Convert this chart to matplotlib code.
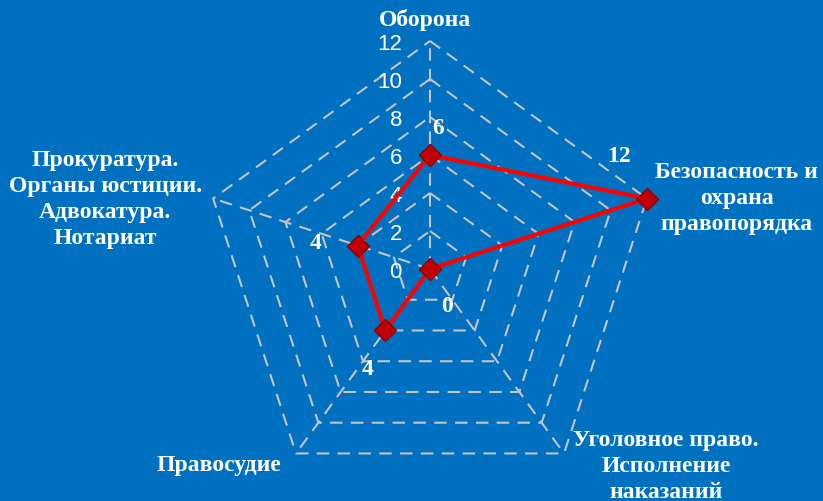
import numpy as np
import matplotlib
matplotlib.use("Agg")
import matplotlib.pyplot as plt

categories = ["Оборона", "Безопасность и\nохрана\nправопорядка",
              "Уголовное право.\nИсполнение\nнаказаний", "Правосудие",
              "Прокуратура.\nОрганы юстиции.\nАдвокатура.\nНотариат"]
values = [6, 12, 0, 4, 4]
ticks = [0, 2, 4, 6, 8, 10, 12]

BG = "#0070C0"
GRID = "#C4C4C4"

fig = plt.figure(figsize=(8.23, 5.02), dpi=100, facecolor=BG)
ax = fig.add_axes([(430 - 228) / 823, (232 - 228) / 502, 456 / 823, 456 / 502],
                  projection="polar", facecolor=BG)
ax.set_theta_zero_location("N")
ax.set_theta_direction(-1)
ax.set_ylim(0, 12)
ax.grid(False)
ax.spines["polar"].set_visible(False)
ax.set_xticks([])
ax.set_yticks([])
ax.patch.set_alpha(0)

n = len(categories)
theta = np.arange(n) * 2 * np.pi / n
theta_c = np.append(theta, theta[0])

# pentagon grid
for t in ticks[1:]:
    ax.plot(theta_c, [t] * (n + 1), color=GRID, lw=1.5, ls=(0, (6, 4)),
            clip_on=False, zorder=1)
for th in theta:
    ax.plot([th, th], [0, ticks[-1]], color=GRID, lw=1.5, ls=(0, (6, 4)),
            clip_on=False, zorder=1)

# tick labels
for t in ticks:
    ax.annotate(str(t), xy=(0, t), xytext=(-28, -2), textcoords="offset pixels",
                ha="right", va="center", color="white", fontsize=16,
                family="Liberation Sans", annotation_clip=False, zorder=2)

# data
vals_c = values + values[:1]
ax.plot(theta_c, vals_c, color="#FF0000", lw=3, zorder=3, clip_on=False)
ax.plot(theta, values, ls="none", marker="D", ms=11, mfc="#C00000",
        mec="#8B0000", mew=1, zorder=4, clip_on=False)

# data labels
dl_off = [(8, 28), (-28, 43), (17, -37), (-18, -38), (-42, 3)]
for th, v, off in zip(theta, values, dl_off):
    ax.annotate(str(v), xy=(th, v), xytext=off, textcoords="offset pixels",
                ha="center", va="center", color="white", fontsize=17,
                fontweight="bold", family="Liberation Serif",
                annotation_clip=False, zorder=5)

# category labels
cat_off = [(-5, 22), (90, 1), (102, -12), (-77, -11), (-108, 0)]
for th, c, off in zip(theta, categories, cat_off):
    ax.annotate(c, xy=(th, ticks[-1]), xytext=off, textcoords="offset pixels",
                ha="center", va="center", multialignment="center",
                color="white", fontsize=17, fontweight="bold",
                family="Liberation Serif", linespacing=1.33,
                annotation_clip=False, zorder=5)

fig.savefig("out.png", dpi=100, facecolor=BG)
